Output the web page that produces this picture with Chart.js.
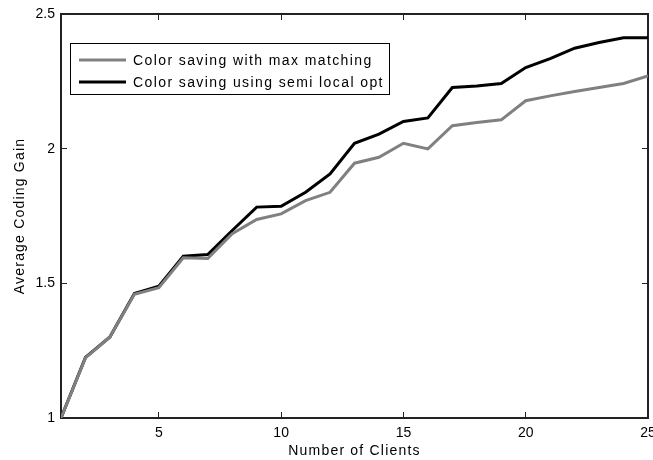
<!DOCTYPE html>
<html>
<head>
<meta charset="utf-8">
<script src="https://cdn.jsdelivr.net/npm/chart.js@4.4.1/dist/chart.umd.min.js"></script>
<style>
  html, body { margin: 0; padding: 0; background: #fff; }
  #chart { display: block; }
</style>
</head>
<body>
<canvas id="chart" width="653" height="460"></canvas>
<script>
// Data
const clients = [1, 2, 3, 4, 5, 6, 7, 8, 9, 10, 11, 12, 13, 14, 15, 16, 17, 18, 19, 20, 21, 22, 23, 24, 25];
const maxMatching = [1.00, 1.223, 1.301, 1.459, 1.484, 1.595, 1.592, 1.684, 1.737, 1.758, 1.807, 1.838, 1.946,
  1.968, 2.020, 1.999, 2.085, 2.097, 2.107, 2.178, 2.196, 2.212, 2.227, 2.242, 2.270];
const semiLocalOpt = [1.00, 1.225, 1.301, 1.462, 1.489, 1.601, 1.607, 1.696, 1.783, 1.786, 1.838, 1.906, 2.020,
  2.054, 2.101, 2.114, 2.227, 2.233, 2.242, 2.301, 2.334, 2.373, 2.394, 2.412, 2.412];
const xTicks = [5, 10, 15, 20, 25];
const yTicks = [1, 1.5, 2, 2.5];
const seriesLabels = ['Color saving with max matching', 'Color saving using semi local opt'];

const FONT = "'Liberation Sans', Arial, Helvetica, sans-serif";

function toPoints(ys) {
  return clients.map((c, i) => ({ x: c, y: ys[i] }));
}

// spaced-out lettering for titles, none for tick labels (drawn after datasets)
const spacingPlugin = {
  id: 'spacing',
  beforeDraw(chart) { chart.ctx.letterSpacing = '1.2px'; },
  beforeDatasetsDraw(chart) { chart.ctx.letterSpacing = '0px'; }
};

// legend box inside the plot, like the matlab figure
const boxLegend = {
  id: 'boxLegend',
  afterDraw(chart) {
    const ctx = chart.ctx;
    const area = chart.chartArea;
    const left = area.left + 9, top = area.top + 29;
    const w = 319, h = 51;
    ctx.save();
    ctx.fillStyle = '#fff';
    ctx.fillRect(left, top, w, h);
    ctx.strokeStyle = '#000';
    ctx.lineWidth = 1;
    ctx.strokeRect(left + 0.5, top + 0.5, w, h);
    ctx.font = '14px ' + FONT;
    ctx.letterSpacing = '1.4px';
    ctx.textBaseline = 'middle';
    ctx.fillStyle = '#000';
    chart.data.datasets.forEach((ds, i) => {
      const y = top + 17 + i * 22;
      ctx.strokeStyle = ds.borderColor;
      ctx.lineWidth = 3;
      ctx.beginPath();
      ctx.moveTo(left + 9, y);
      ctx.lineTo(left + 56, y);
      ctx.stroke();
      ctx.fillText(ds.label, left + 63, y + 1);
    });
    ctx.restore();
  }
};

function fixedTicks(list) {
  return function (scale) {
    scale.ticks = list.map(v => ({ value: v }));
  };
}

const axisGrid = { drawOnChartArea: false, drawTicks: true, tickLength: -6, color: '#222', lineWidth: 1 };
const axisBorder = { display: true, color: '#222', width: 2 };

new Chart(document.getElementById('chart'), {
  type: 'line',
  data: {
    datasets: [{
      label: seriesLabels[0],
      data: toPoints(maxMatching),
      borderColor: '#808080',
      borderWidth: 3,
      pointRadius: 0,
      tension: 0
    }, {
      label: seriesLabels[1],
      data: toPoints(semiLocalOpt),
      borderColor: '#000000',
      borderWidth: 3,
      pointRadius: 0,
      tension: 0
    }]
  },
  options: {
    responsive: false,
    animation: false,
    devicePixelRatio: 1,
    layout: { padding: { top: 14, right: 5, left: 0, bottom: 0 } },
    plugins: {
      legend: { display: false },
      tooltip: { enabled: false }
    },
    scales: {
      x: {
        type: 'linear',
        position: 'bottom',
        min: 1,
        max: 25,
        afterBuildTicks: fixedTicks(xTicks),
        afterFit(scale) { scale.height = 42; scale.paddingLeft = 0; scale.paddingRight = 0; },
        grid: axisGrid,
        border: axisBorder,
        ticks: {
          z: 1,
          padding: 13,
          maxRotation: 0,
          color: '#000',
          font: { family: FONT, size: 14 },
          callback: v => String(v)
        },
        title: {
          display: true,
          text: 'Number of Clients',
          color: '#000',
          font: { family: FONT, size: 14 },
          padding: 0
        }
      },
      x2: {
        type: 'linear',
        position: 'top',
        min: 1,
        max: 25,
        afterBuildTicks: fixedTicks(xTicks),
        afterFit(scale) { scale.height = 0; scale.paddingLeft = 0; scale.paddingRight = 0; },
        grid: axisGrid,
        border: axisBorder,
        ticks: { display: false }
      },
      y: {
        type: 'linear',
        position: 'left',
        min: 1,
        max: 2.5,
        afterBuildTicks: fixedTicks(yTicks),
        afterFit(scale) { scale.width = 61; scale.paddingTop = 0; scale.paddingBottom = 0; },
        grid: axisGrid,
        border: axisBorder,
        ticks: {
          z: 1,
          padding: 12,
          color: '#000',
          font: { family: FONT, size: 14 },
          callback: v => String(v)
        },
        title: {
          display: true,
          text: 'Average Coding Gain',
          color: '#000',
          font: { family: FONT, size: 14 },
          padding: { top: 12, bottom: 0 }
        }
      },
      y2: {
        type: 'linear',
        position: 'right',
        min: 1,
        max: 2.5,
        afterBuildTicks: fixedTicks(yTicks),
        afterFit(scale) { scale.width = 0; scale.paddingTop = 0; scale.paddingBottom = 0; },
        grid: axisGrid,
        border: axisBorder,
        ticks: { display: false }
      }
    }
  },
  plugins: [spacingPlugin, boxLegend]
});
</script>
</body>
</html>
